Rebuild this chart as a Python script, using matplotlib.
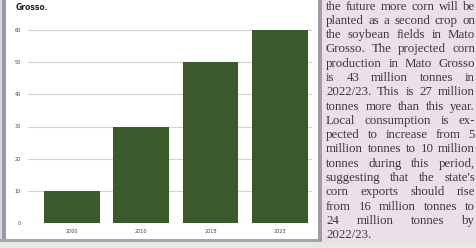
import matplotlib.pyplot as plt
from matplotlib.patches import Rectangle

years = ["2000", "2010", "2018", "2023"]
production = [10, 30, 50, 60]
y_ticks = [0, 10, 20, 30, 40, 50, 60]

text_lines = [
    "the future more corn will be",
    "planted as a second crop on",
    "the soybean fields in Mato",
    "Grosso. The projected corn",
    "production in Mato Grosso",
    "is 43 million tonnes in",
    "2022/23. This is 27 million",
    "tonnes more than this year.",
    "Local consumption is ex-",
    "pected to increase from 5",
    "million tonnes to 10 million",
    "tonnes during this period,",
    "suggesting that the state's",
    "corn exports should rise",
    "from 16 million tonnes to",
    "24 million tonnes by",
    "2022/23.",
]

W, H = 477, 248
fig = plt.figure(figsize=(W / 100, H / 100), dpi=100)
fig.patch.set_facecolor("white")


def px_rect(x0, y0, x1, y1, color, z=0):
    # rectangle given in pixel coords, origin top-left
    fig.patches.append(Rectangle((x0 / W, 1 - y1 / H), (x1 - x0) / W, (y1 - y0) / H,
                                 transform=fig.transFigure, color=color, zorder=z, lw=0))


# page frame pieces
px_rect(0, 0, 2, 242, "#d8d6dc")
px_rect(2, 0, 6, 242, "#9d97a5")
px_rect(0, 239, 322, 242, "#a8a4ad")
px_rect(0, 242, W, H, "#e4e8e6")
px_rect(322, 0, W, 242, "#ecdfe8")
px_rect(318, 0, 322, 242, "#a39ba8")

# chart
ax = fig.add_axes([28 / W, 1 - 223 / H, (312 - 28) / W, (223 - 30) / H])
ax.set_facecolor("none")
ax.bar(range(len(years)), production, width=0.8, color="#3b5a2c", zorder=3)
ax.set_xlim(-0.63, 3.46)
ax.set_ylim(0, 60)
ax.set_yticks(y_ticks)
ax.set_xticks(range(len(years)))
ax.set_xticklabels(years)
ax.yaxis.grid(True, color="#d4d4d4", lw=0.8, zorder=0)
for s in ax.spines.values():
    s.set_visible(False)
ax.tick_params(length=0, labelsize=3.5, labelcolor="#444444")
ax.tick_params(axis="y", pad=5)
ax.tick_params(axis="x", pad=4)

fig.text(16 / W, 1 - 7 / H, "Grosso.", fontsize=5.5, fontweight="bold",
         color="#222222", va="center", ha="left")

# side column, justified
renderer = fig.canvas.get_renderer()
fs = 9.3
x_left, x_right = 326, 475
for i, line in enumerate(text_lines):
    y = 1 - (6.5 + i * 14.3) / H
    words = line.split()
    arts = [fig.text(0, y, w, family="Liberation Serif", fontsize=fs,
                     color="#3a3a3a", va="center", ha="left") for w in words]
    widths = [a.get_window_extent(renderer).width for a in arts]
    if i == len(text_lines) - 1 or len(words) == 1:
        space = fs * 0.25 * 100 / 72
    else:
        space = (x_right - x_left - sum(widths)) / (len(words) - 1)
    x = x_left
    for a, w in zip(arts, widths):
        a.set_x(x / W)
        x += w + space

fig.savefig("out.png", dpi=100)
